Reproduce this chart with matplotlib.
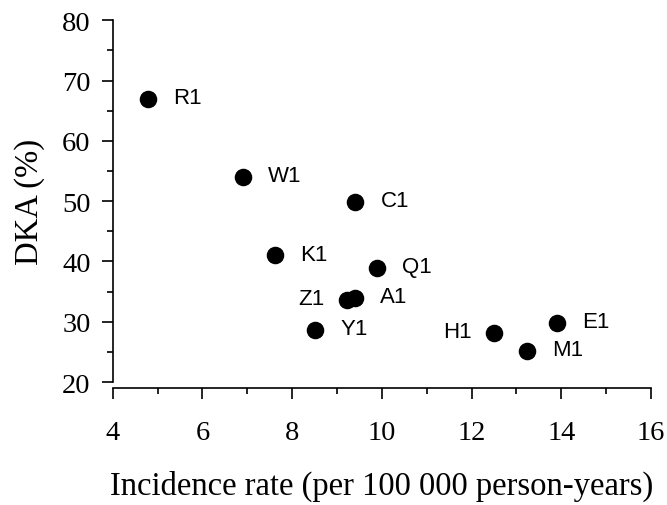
import matplotlib.pyplot as plt
from matplotlib.ticker import MultipleLocator

# Incidence rate vs DKA share per centre
labels = ['R1', 'W1', 'C1', 'K1', 'Q1', 'Z1', 'A1', 'Y1', 'H1', 'E1', 'M1']
incidence = [4.78, 6.9, 9.41, 7.62, 9.89, 9.22, 9.41, 8.51, 12.5, 13.9, 13.23]
dka = [66.9, 54.0, 49.8, 41.0, 38.9, 33.6, 33.9, 28.6, 28.1, 29.75, 25.2]
left_side = ['Z1', 'H1']  # labels drawn to the left of the dot

serif = 'Liberation Serif'
sans = 'Liberation Sans'

fig = plt.figure(figsize=(6.67, 5.06), dpi=100)
ax = fig.add_axes([0.169, 0.243, 0.807, 0.715])

ax.scatter(incidence, dka, s=135, color='black', zorder=3, clip_on=False)
for lab, x, y in zip(labels, incidence, dka):
    if lab in left_side:
        ax.annotate(lab, (x, y), xytext=(-16, 1), textcoords='offset points',
                    ha='right', va='center', fontsize=16, family=sans)
    else:
        ax.annotate(lab, (x, y), xytext=(18, 1), textcoords='offset points',
                    ha='left', va='center', fontsize=16, family=sans)

ax.set_xlim(4, 16)
ax.set_ylim(20, 80)
ax.xaxis.set_major_locator(MultipleLocator(2))
ax.xaxis.set_minor_locator(MultipleLocator(1))
ax.yaxis.set_major_locator(MultipleLocator(10))
ax.yaxis.set_minor_locator(MultipleLocator(5))

ax.spines['top'].set_visible(False)
ax.spines['right'].set_visible(False)
ax.spines['left'].set_linewidth(1.2)
ax.spines['bottom'].set_linewidth(1.2)
ax.spines['bottom'].set_position(('outward', 4))

ax.tick_params(which='major', direction='out', length=8, width=1.2, labelsize=20.5)
ax.tick_params(which='minor', direction='out', length=4.5, width=1.2)
ax.tick_params(axis='y', which='major', pad=8)
ax.tick_params(axis='x', which='major', pad=15)
for t in ax.get_xticklabels() + ax.get_yticklabels():
    t.set_family(serif)

ax.set_xlabel('Incidence rate (per 100 000 person-years)', fontsize=23.5, family=serif, labelpad=18)
ax.set_ylabel('DKA (%)', fontsize=23.5, family=serif, labelpad=12)

plt.savefig('out.png', dpi=100)
